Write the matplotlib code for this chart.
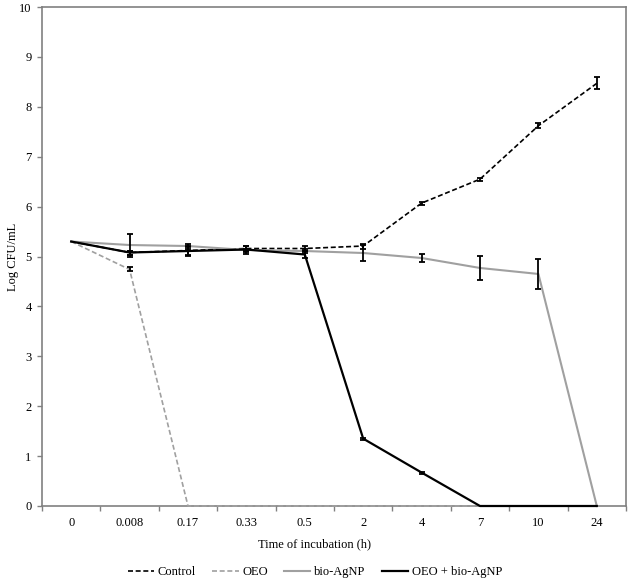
import numpy as np
import matplotlib.pyplot as plt

plt.rcParams['font.family'] = ['Liberation Serif', 'DejaVu Serif']

# Data
times = ['0', '0.008', '0.17', '0.33', '0.5', '2', '4', '7', '10', '24']

control = [5.30, 5.08, 5.12, 5.16, 5.16, 5.21, 6.07, 6.55, 7.62, 8.47]
control_err = [0, 0.04, 0.08, 0.05, 0.05, 0.05, 0.03, 0.03, 0.05, 0.12]

oeo = [5.30, 4.74, 0, 0, 0, 0, 0, 0, 0, 0]
oeo_err = [0, 0.04, 0, 0, 0, 0, 0, 0, 0, 0]

agnp = [5.30, 5.23, 5.21, 5.13, 5.11, 5.07, 4.97, 4.77, 4.65, 0]
agnp_err = [0, 0.23, 0.05, 0.03, 0.04, 0.16, 0.09, 0.25, 0.30, 0]

combo = [5.30, 5.08, 5.11, 5.14, 5.04, 1.35, 0.67, 0, 0, 0]
combo_err = [0, 0.04, 0.10, 0.08, 0.08, 0.02, 0.02, 0, 0, 0]

x = np.arange(len(times))

fig = plt.figure(figsize=(6.3, 5.79), dpi=100)
ax = fig.add_axes([42 / 630, 1 - 506 / 579, 584 / 630, 499 / 579])

series = [
    ('Control', control, control_err, dict(color='black', lw=1.2, ls=(0, (3, 1.6)))),
    ('OEO', oeo, oeo_err, dict(color='#a0a0a0', lw=1.2, ls=(0, (3, 1.6)))),
    ('bio-AgNP', agnp, agnp_err, dict(color='#a0a0a0', lw=1.5, ls='-')),
    ('OEO + bio-AgNP', combo, combo_err, dict(color='black', lw=1.6, ls='-')),
]

for name, vals, errs, style in series:
    ax.plot(x, vals, label=name, clip_on=False, zorder=3, **style)
    errs = np.array(errs)
    mask = errs > 0
    ax.errorbar(x[mask], np.array(vals)[mask], yerr=errs[mask], fmt='none',
                ecolor='black', elinewidth=1.3, capsize=2.5, capthick=1.3, zorder=4)

ax.set_xlim(-0.5, len(times) - 0.5)
ax.set_ylim(0, 10)
ax.set_yticks(range(0, 11))

# category labels at centres, tick marks at the boundaries
ax.set_xticks(x)
ax.set_xticklabels(times)
ax.set_xticks(np.arange(-0.5, len(times)), minor=True)
ax.tick_params(axis='x', which='major', length=0, pad=8, labelsize=9)
ax.tick_params(axis='x', which='minor', length=3.5, width=1, color='#808080', direction='out')
ax.tick_params(axis='y', length=3.5, width=1, color='#808080', pad=4, labelsize=9)

for sp in ax.spines.values():
    sp.set_color('#808080')
    sp.set_linewidth(1.2)

ax.set_ylabel('Log CFU/mL', fontsize=9)
ax.yaxis.set_label_coords(-0.040, 0.5)
ax.set_xlabel('Time of incubation (h)', fontsize=9)
ax.xaxis.set_label_coords((315 - 42) / 584, -0.064)

fig.legend(loc='center', bbox_to_anchor=(0.5, 1 - 572 / 579), ncol=4, frameon=False,
           fontsize=9, handlelength=2.1, handletextpad=0.3, columnspacing=1.3)

plt.savefig('out.png', dpi=100)
